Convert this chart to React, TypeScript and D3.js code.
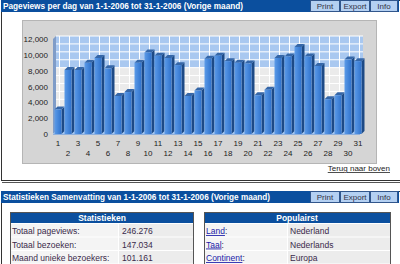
import React from 'react';
import * as d3 from 'd3';

const days = ['1','2','3','4','5','6','7','8','9','10','11','12','13','14','15','16','17','18','19','20','21','22','23','24','25','26','27','28','29','30','31'];
const pageviews = [3100,8100,8100,9000,9600,8300,4800,5300,9000,10300,9900,9600,8700,4800,5500,9500,9900,9200,9000,8900,4900,5600,9600,9800,11000,9800,8600,4400,4900,9400,9200];
const yTickValues = [0,2000,4000,6000,8000,10000,12000];
const title1 = 'Pageviews per dag van 1-1-2006 tot 31-1-2006 (Vorige maand)';
const title2 = 'Statistieken Samenvatting van 1-1-2006 tot 31-1-2006 (Vorige maand)';
const buttons = ['Print', 'Export', 'Info'];
const statHeader = 'Statistieken';
const statLabels = ['Totaal pageviews:', 'Totaal bezoeken:', 'Maand unieke bezoekers:'];
const statValues = ['246.276', '147.034', '101.161'];
const popHeader = 'Populairst';
const popLabels = ['Land', 'Taal', 'Continent'];
const popValues = ['Nederland', 'Nederlands', 'Europa'];
const backLink = 'Terug naar boven';

const FONT = "'Liberation Sans', Arial, sans-serif";
const DARKBLUE = '#0b4f9e';
const BTN = '#b4d0f2';

function TitleBar({ y, text, width }: { y: number; text: string; width: number }) {
  const bx = [310, 340, 370];
  const bw = [30, 30, 28];
  return (
    <g>
      <rect x={1} y={y} width={398} height={12} fill={DARKBLUE} />
      <text x={3} y={y + 9} fill="#fff" fontWeight="bold" fontSize={9} fontFamily={FONT} textLength={width} lengthAdjust="spacingAndGlyphs">{text}</text>
      {buttons.map((b, i) => (
        <g key={b}>
          <rect x={bx[i] + 0.5} y={y + 0.5} width={bw[i] - 1} height={11} fill={BTN} stroke="#31568c" strokeWidth={1} />
          <text x={bx[i] + bw[i] / 2} y={y + 9} textAnchor="middle" fontSize={8} fill="#334" fontFamily={FONT}>{b}</text>
        </g>
      ))}
    </g>
  );
}

export default function App() {
  const depth = 3;
  const x = d3.scaleBand<string>().domain(days).range([53, 363]).paddingInner(0.3).paddingOuter(0.15);
  const y = d3.scaleLinear().domain([0, 12000]).range([134, 39]);
  const bw = x.bandwidth();
  const y0 = y(0);
  const yTop = y(12000);
  const xl = 53;
  const xr = 363;
  const gridTicks = y.ticks(12);

  return (
    <svg width={400} height={264} style={{ position: 'absolute', left: 0, top: 0, background: '#fff' }}>
      <defs>
        <linearGradient id="barg" x1="0" x2="1" y1="0" y2="0">
          <stop offset="0" stopColor="#5c9be8" />
          <stop offset="1" stopColor="#2f72cc" />
        </linearGradient>
      </defs>
      {/* panel 1 */}
      <rect x={1.5} y={0.5} width={410} height={180} fill="#fff" stroke="#333" strokeWidth={1} />
      <line x1={2} x2={400} y1={182.5} y2={182.5} stroke="#555" strokeWidth={1} />
      <TitleBar y={0} text={title1} width={240} />

      {/* chart box */}
      <rect x={22.5} y={20.5} width={354} height={143} fill="#d5d5d5" stroke="#b5b5b5" />

      {/* back wall */}
      <rect x={xl + depth} y={yTop - depth} width={xr - xl - depth} height={y(8000) - yTop} fill="#a9c8f0" />
      <rect x={xl + depth} y={y(8000) - depth} width={xr - xl - depth} height={y0 - y(8000)} fill="#ebebeb" />
      {gridTicks.map(t => (
        <line key={'h' + t} x1={xl + depth} x2={xr} y1={y(t) - depth} y2={y(t) - depth} stroke="#fff" strokeWidth={1} />
      ))}
      {days.map(d => (
        <line key={'v' + d} x1={(x(d) as number) + bw / 2 + 1.5} x2={(x(d) as number) + bw / 2 + 1.5} y1={yTop - depth} y2={y0 - depth} stroke="#fff" strokeWidth={1} />
      ))}
      {/* left wall */}
      <polygon points={`${xl},${yTop} ${xl + depth},${yTop - depth} ${xl + depth},${y0 - depth} ${xl},${y0}`} fill="#7f9cc8" />
      {/* floor */}
      <polygon points={`${xl},${y0} ${xl + depth},${y0 - depth} ${xr},${y0 - depth} ${xr - depth},${y0}`} fill="#a9c8f0" />
      <line x1={xl} x2={xr - depth} y1={y0 + 0.5} y2={y0 + 0.5} stroke="#8fb0dc" />

      {/* bars */}
      {days.map((d, i) => {
        const bx = x(d) as number;
        const by = y(pageviews[i]);
        return (
          <g key={'b' + d}>
            <polygon points={`${bx + bw},${by} ${bx + bw + depth},${by - depth} ${bx + bw + depth},${y0 - depth} ${bx + bw},${y0}`} fill="#1d4a86" />
            <polygon points={`${bx},${by} ${bx + depth},${by - depth} ${bx + bw + depth},${by - depth} ${bx + bw},${by}`} fill="#3466a8" />
            <rect x={bx} y={by} width={bw} height={y0 - by} fill="url(#barg)" />
          </g>
        );
      })}

      {/* y labels */}
      {yTickValues.map(t => (
        <text key={'yl' + t} x={48} y={y(t) + 3} textAnchor="end" fontSize={8} fill="#222" fontFamily={FONT}>{d3.format(',')(t)}</text>
      ))}
      {/* x labels */}
      {days.map((d, i) => (
        <text key={'xl' + d} x={(x(d) as number) + bw / 2} y={i % 2 === 0 ? 146 : 156} textAnchor="middle" fontSize={8} fill="#222" fontFamily={FONT}>{d}</text>
      ))}

      <text x={390} y={171} textAnchor="end" fontSize={8} fill="#222" fontFamily={FONT} textDecoration="underline">{backLink}</text>

      {/* panel 2 */}
      <rect x={1.5} y={191.5} width={410} height={90} fill="#fff" stroke="#333" strokeWidth={1} />
      <TitleBar y={191} text={title2} width={267} />

      {/* statistieken table */}
      <rect x={10.5} y={212.5} width={183} height={70} fill="#fff" stroke="#555" />
      <rect x={11} y={213} width={182} height={10} fill={DARKBLUE} />
      <text x={102} y={221} textAnchor="middle" fill="#fff" fontWeight="bold" fontSize={8.5} fontFamily={FONT}>{statHeader}</text>
      {statLabels.map((l, i) => (
        <g key={'s' + i}>
          <rect x={11} y={224 + i * 13.5} width={107} height={12.5} fill="#f4f4f4" />
          <rect x={119} y={224 + i * 13.5} width={74} height={12.5} fill="#ececec" />
          <text x={12} y={234 + i * 13.5} fontSize={8.5} fill="#3a2a4a" fontFamily={FONT}>{l}</text>
          <text x={122} y={234 + i * 13.5} fontSize={8.5} fill="#3a2a4a" fontFamily={FONT}>{statValues[i]}</text>
        </g>
      ))}

      {/* populairst table */}
      <rect x={204.5} y={212.5} width={186} height={70} fill="#fff" stroke="#555" />
      <rect x={205} y={213} width={185} height={10} fill={DARKBLUE} />
      <text x={297} y={221} textAnchor="middle" fill="#fff" fontWeight="bold" fontSize={8.5} fontFamily={FONT}>{popHeader}</text>
      {popLabels.map((l, i) => (
        <g key={'p' + i}>
          <rect x={205} y={224 + i * 13.5} width={82} height={12.5} fill="#f4f4f4" />
          <rect x={288} y={224 + i * 13.5} width={102} height={12.5} fill="#ececec" />
          <text x={206} y={234 + i * 13.5} fontSize={8.5} fill="#1a1aa8" fontFamily={FONT}>
            <tspan textDecoration="underline">{l}</tspan>
            <tspan fill="#3a2a4a">:</tspan>
          </text>
          <text x={290} y={234 + i * 13.5} fontSize={8.5} fill="#3a2a4a" fontFamily={FONT}>{popValues[i]}</text>
        </g>
      ))}
    </svg>
  );
}
